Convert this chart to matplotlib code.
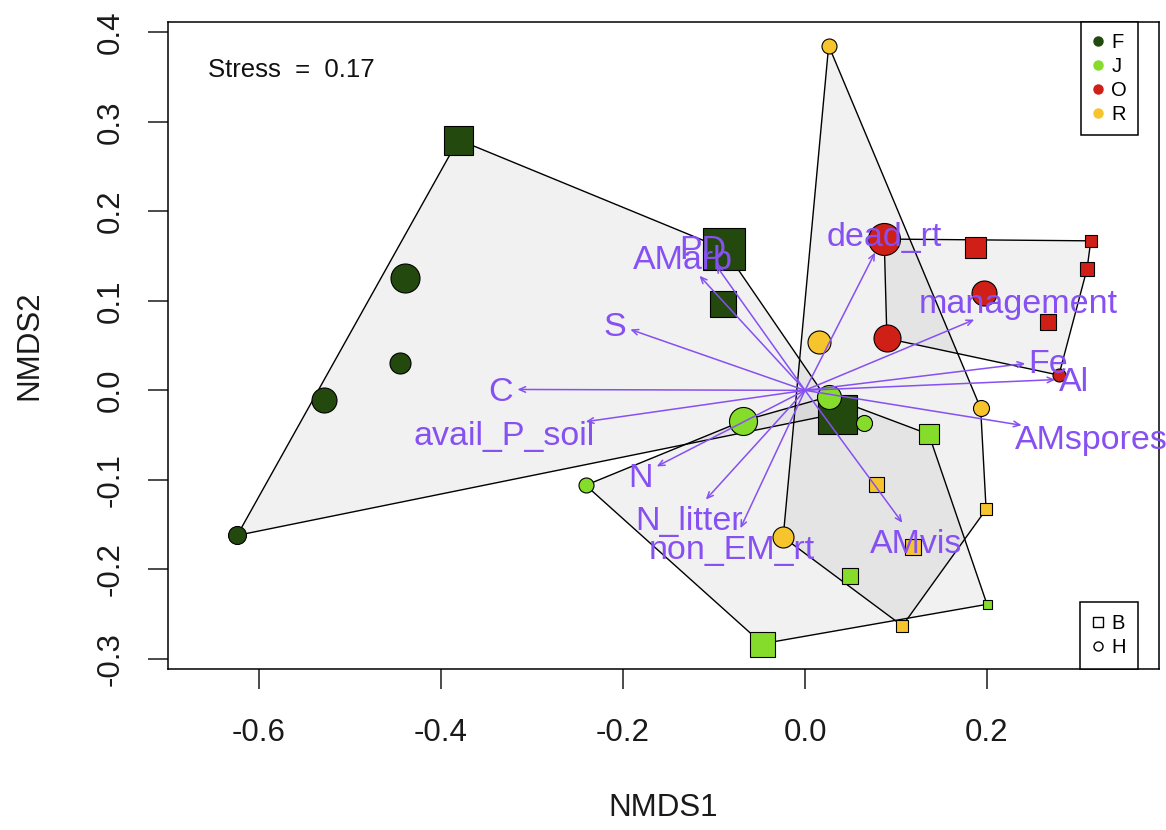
import numpy as np
import matplotlib
matplotlib.use("Agg")
import matplotlib.pyplot as plt
from matplotlib.lines import Line2D

plt.rcParams['font.family'] = ['Liberation Sans', 'DejaVu Sans']

# NMDS site scores
site_group = ['F'] * 8 + ['J'] * 8 + ['O'] * 8 + ['R'] * 8
site_hab = ['B', 'B', 'B', 'B', 'H', 'H', 'H', 'H',
            'B', 'B', 'B', 'B', 'H', 'H', 'H', 'H',
            'H', 'H', 'H', 'B', 'B', 'B', 'B', 'H',
            'H', 'H', 'H', 'B', 'B', 'B', 'B', 'H']
nmds1 = [-0.381, -0.089, -0.090, 0.035, -0.440, -0.445, -0.529, -0.624,
         -0.047, 0.136, 0.049, 0.200, -0.068, 0.026, 0.065, -0.241,
         0.087, 0.090, 0.197, 0.187, 0.314, 0.310, 0.267, 0.279,
         0.026, 0.015, 0.193, 0.199, 0.078, 0.119, 0.107, -0.024]
nmds2 = [0.280, 0.158, 0.097, -0.026, 0.125, 0.031, -0.011, -0.162,
         -0.283, -0.049, -0.207, -0.239, -0.034, -0.007, -0.037, -0.106,
         0.169, 0.058, 0.109, 0.160, 0.167, 0.136, 0.076, 0.017,
         0.385, 0.054, -0.020, -0.133, -0.105, -0.175, -0.263, -0.164]
site_cex = [2.9, 4.2, 2.7, 3.9, 2.9, 2.1, 2.5, 1.8,
            2.5, 2.0, 1.6, 0.9, 2.8, 2.4, 1.6, 1.5,
            3.2, 2.7, 2.5, 2.1, 1.2, 1.4, 1.6, 1.3,
            1.5, 2.3, 1.6, 1.2, 1.5, 1.6, 1.2, 2.1]

groups = ['F', 'J', 'O', 'R']
group_colors = {'F': '#23490f', 'J': '#86dc2b', 'O': '#cf1f17', 'R': '#f6c52d'}
habitats = ['B', 'H']
hab_markers = {'B': 's', 'H': 'o'}

# envfit vectors
env_names = ['S', 'C', 'avail_P_soil', 'N', 'N_litter', 'non_EM_rt', 'AMvis',
             'AMspores', 'Al', 'Fe', 'management', 'dead_rt', 'PD', 'AMarb']
env_x = [-0.192, -0.316, -0.241, -0.163, -0.109, -0.071, 0.107,
         0.238, 0.275, 0.242, 0.186, 0.077, -0.098, -0.116]
env_y = [0.068, 0.001, -0.035, -0.085, -0.122, -0.154, -0.148,
         -0.039, 0.012, 0.030, 0.079, 0.154, 0.140, 0.128]

stress = 0.17
arrow_col = '#8650f2'


def convex_hull(pts):
    pts = sorted(set(pts))
    if len(pts) < 3:
        return pts

    def cross(o, a, b):
        return (a[0] - o[0]) * (b[1] - o[1]) - (a[1] - o[1]) * (b[0] - o[0])

    lower, upper = [], []
    for p in pts:
        while len(lower) >= 2 and cross(lower[-2], lower[-1], p) <= 0:
            lower.pop()
        lower.append(p)
    for p in reversed(pts):
        while len(upper) >= 2 and cross(upper[-2], upper[-1], p) <= 0:
            upper.pop()
        upper.append(p)
    return lower[:-1] + upper[:-1]


def arrow_text_xy(ax, x, y, label, fontsize, renderer):
    # same idea as vegan's ordiArrowTextXY: put the label just past the arrow head
    t = ax.text(0, 0, label, fontsize=fontsize)
    w_px = 0.83 * t.get_window_extent(renderer).width
    t.remove()
    p0 = ax.transData.transform((0, 0))
    p1 = ax.transData.transform((1, 1))
    sx, sy = p1[0] - p0[0], p1[1] - p0[1]
    w = w_px / sx
    h = 0.72 * fontsize * ax.figure.dpi / 72 / sy
    off = [np.sign(x) * (w / 2 + h / 4), 0.75 * h * np.sign(y)]
    b = y / x
    move = off[1] / b
    if np.isfinite(move) and abs(move) <= abs(off[0]):
        off[0] = move
    else:
        off[1] = b * off[0]
    return x + off[0], y + off[1]


fig = plt.figure(figsize=(11.66, 8.30), dpi=100)
ax = fig.add_axes([0.1438, 0.194, 0.8502, 0.7799])
ax.set_xlim(-0.7004, 0.389)
ax.set_ylim(-0.3112, 0.4118)

x = np.array(nmds1)
y = np.array(nmds2)
g = np.array(site_group)

# hulls per group
for grp in groups:
    sel = g == grp
    hull = convex_hull(list(zip(x[sel], y[sel])))
    hx = [p[0] for p in hull] + [hull[0][0]]
    hy = [p[1] for p in hull] + [hull[0][1]]
    ax.fill(hx, hy, facecolor='gray', alpha=0.11, edgecolor='none', zorder=1)
    ax.plot(hx, hy, color='black', lw=1.0, zorder=1.5)

# site points
for xi, yi, grp, hab, cex in zip(nmds1, nmds2, site_group, site_hab, site_cex):
    ax.plot(xi, yi, marker=hab_markers[hab], ms=cex * 10 * 0.72,
            mfc=group_colors[grp], mec='black', mew=0.8, ls='none', zorder=3)

# env vectors
renderer = fig.canvas.get_renderer()
lab_fs = 24.5
for name, ex, ey in zip(env_names, env_x, env_y):
    ax.annotate('', xy=(ex, ey), xytext=(0, 0),
                arrowprops=dict(arrowstyle='->,head_length=0.45,head_width=0.2',
                                color=arrow_col, lw=1.1, shrinkA=0, shrinkB=0),
                zorder=4)
    tx, ty = arrow_text_xy(ax, ex, ey, name, lab_fs, renderer)
    ax.text(tx, ty, name, color=arrow_col, fontsize=lab_fs, ha='center',
            va='center_baseline', zorder=5)

ax.text(0.0407, 0.9285, 'Stress  =  ' + str(stress), transform=ax.transAxes,
        fontsize=18.5, ha='left', va='center_baseline', color='#111111')

# legends
h1 = [Line2D([], [], marker='o', ls='none', color=group_colors[grp], ms=6.5)
      for grp in groups]
leg1 = ax.legend(h1, groups, loc='upper right', bbox_to_anchor=(0.9789, 1.0),
                 borderaxespad=0, fancybox=False, edgecolor='black', fontsize=14.5,
                 handlelength=0.6, handletextpad=0.35, labelspacing=0.25,
                 borderpad=0.55, framealpha=1)
leg1.get_frame().set_linewidth(1.1)
ax.add_artist(leg1)
h2 = [Line2D([], [], marker=hab_markers[hab], ls='none', mfc='white', mec='black',
             mew=1.0, ms=6.5) for hab in habitats]
leg2 = ax.legend(h2, habitats, loc='lower right', bbox_to_anchor=(0.9789, 0.0),
                 borderaxespad=0, fancybox=False, edgecolor='black', fontsize=14.5,
                 handlelength=0.6, handletextpad=0.35, labelspacing=0.25,
                 borderpad=0.6, framealpha=1)
leg2.get_frame().set_linewidth(1.1)

# axes styling, R base look
ax.set_xticks([-0.6, -0.4, -0.2, 0.0, 0.2])
ax.set_yticks([-0.3, -0.2, -0.1, 0.0, 0.1, 0.2, 0.3, 0.4])
ax.set_xticklabels(['-0.6', '-0.4', '-0.2', '0.0', '0.2'])
ax.set_yticklabels(['-0.3', '-0.2', '-0.1', '0.0', '0.1', '0.2', '0.3', '0.4'],
                   rotation=90, va='center')
ax.tick_params(direction='out', length=14.4, width=1.1, labelsize=22.5,
               colors='#1a1a1a')
ax.tick_params(axis='x', pad=21)
ax.tick_params(axis='y', pad=16)
for s in ax.spines.values():
    s.set_linewidth(1.1)
ax.set_xlabel('NMDS1', fontsize=22.5, labelpad=32, color='#1a1a1a')
ax.set_ylabel('NMDS2', fontsize=22.5, labelpad=37, color='#1a1a1a')

fig.savefig('out.png', dpi=100)
